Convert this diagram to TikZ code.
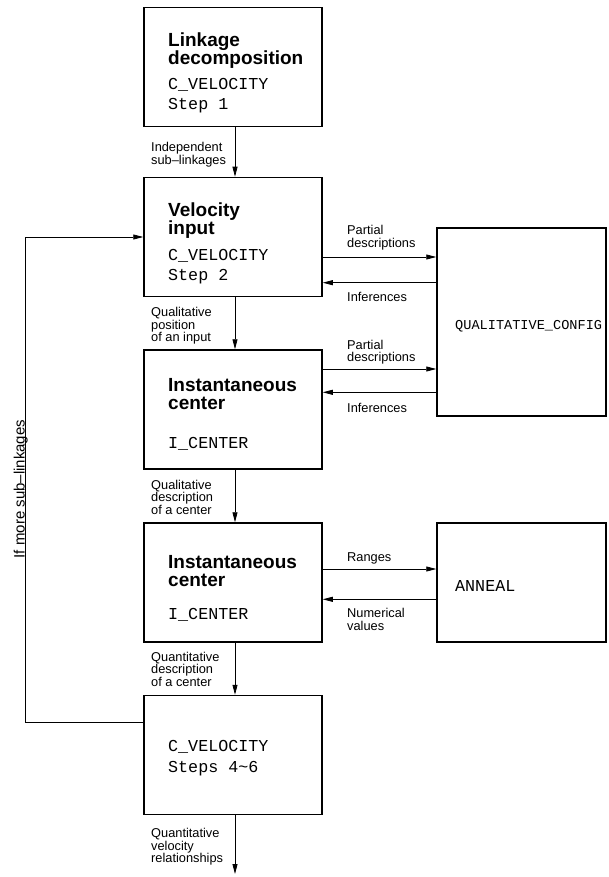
\documentclass[tikz,border=0pt]{standalone}
\usepackage{fontspec}
\setmainfont{Liberation Sans}
\newfontfamily\monofont{Liberation Mono}
\usetikzlibrary{arrows.meta}
\begin{document}
\begin{tikzpicture}[x=1pt,y=-1pt,
  box/.style={draw, line width=1.5pt, inner sep=0pt, minimum width=178pt, minimum height=119pt},
  sidebox/.style={draw, line width=1.5pt, inner sep=0pt, minimum width=169pt},
  ttl/.style={font=\fontsize{19}{19}\selectfont\bfseries, anchor=base west, inner sep=0pt},
  mono/.style={font=\fontsize{16.7}{20}\monofont, anchor=base west, inner sep=0pt},
  monosm/.style={font=\fontsize{13.6}{16}\monofont, anchor=base west, inner sep=0pt},
  lbl/.style={font=\fontsize{12.8}{12.6}\selectfont, anchor=base west, inner sep=0pt},
  conn/.style={line width=0.8pt, -{Triangle[length=10pt,width=5pt]}}
]
\useasboundingbox (0,0) rectangle (608,877);

% main boxes
\node[box] (b1) at (233,67) {};
\node[box] (b2) at (233,237) {};
\node[box] (b3) at (233,409.5) {};
\node[box] (b4) at (233,582.5) {};
\node[box] (b5) at (233,755) {};
% side boxes
\node[sidebox, minimum height=188pt] (qc) at (521.5,322) {};
\node[sidebox, minimum height=119pt] (an) at (521.5,582.5) {};

% box texts
\node[ttl] (t1a) at (168,47) {Linkage};
\node[ttl] (t1b) at (168,65) {decomposition};
\node[mono] (m1a) at (168,90) {C\_VELOCITY};
\node[mono] (m1b) at (168,110) {Step 1};

\node[ttl] (t2a) at (168,216.5) {Velocity};
\node[ttl] (t2b) at (168,234.5) {input};
\node[mono] (m2a) at (168,260) {C\_VELOCITY};
\node[mono] (m2b) at (168,280) {Step 2};

\node[ttl] (t3a) at (168,391) {Instantaneous};
\node[ttl] (t3b) at (168,409) {center};
\node[mono] (m3a) at (168,448) {I\_CENTER};

\node[ttl] (t4a) at (168,568) {Instantaneous};
\node[ttl] (t4b) at (168,586) {center};
\node[mono] (m4a) at (168,619) {I\_CENTER};

\node[mono] (m5a) at (168,751) {C\_VELOCITY};
\node[mono] (m5b) at (168,772) {Steps 4\textasciitilde 6};

\node[monosm] (mqc) at (455,329.5) {QUALITATIVE\_CONFIG};
\node[mono] (man) at (455,591.5) {ANNEAL};

% vertical connectors
\coordinate (out) at (235,874);
\draw[conn] ([xshift=2pt]b1.south) -- ([xshift=2pt]b2.north);
\draw[conn] ([xshift=2pt]b2.south) -- ([xshift=2pt]b3.north);
\draw[conn] ([xshift=2pt]b3.south) -- ([xshift=2pt]b4.north);
\draw[conn] ([xshift=2pt]b4.south) -- ([xshift=2pt]b5.north);
\draw[conn] ([xshift=2pt]b5.south) -- (out);

% horizontal connectors
\coordinate (h2a) at (0,257);
\coordinate (h2b) at (0,282.7);
\coordinate (h3a) at (0,369);
\coordinate (h3b) at (0,392.3);
\coordinate (h4a) at (0,569);
\coordinate (h4b) at (0,599.3);
\draw[conn] (b2.east |- h2a) -- (qc.west |- h2a);
\draw[conn] (qc.west |- h2b) -- (b2.east |- h2b);
\draw[conn] (b3.east |- h3a) -- (qc.west |- h3a);
\draw[conn] (qc.west |- h3b) -- (b3.east |- h3b);
\draw[conn] (b4.east |- h4a) -- (an.west |- h4a);
\draw[conn] (an.west |- h4b) -- (b4.east |- h4b);

% feedback loop
\coordinate (fb) at (0,722);
\coordinate (fbx) at (25,0);
\draw[conn] (b5.west |- fb) -- (fbx |- fb) |- (b2.west);
\node[font=\fontsize{15}{15}\selectfont, rotate=90, anchor=base, inner sep=0pt] (fbl) at (24.5,489) {If more sub–linkages};

% connector labels
\node[lbl] (l1a) at (151,152) {Independent};
\node[lbl] (l1b) at (151,164.5) {sub–linkages};

\node[lbl] (l2a) at (151,316.5) {Qualitative};
\node[lbl] (l2b) at (151,329) {position};
\node[lbl] (l2c) at (151,341.5) {of an input};

\node[lbl] (l3a) at (151,489) {Qualitative};
\node[lbl] (l3b) at (151,501.5) {description};
\node[lbl] (l3c) at (151,514) {of a center};

\node[lbl] (l4a) at (151,661) {Quantitative};
\node[lbl] (l4b) at (151,673.5) {description};
\node[lbl] (l4c) at (151,686) {of a center};

\node[lbl] (l5a) at (151,837.5) {Quantitative};
\node[lbl] (l5b) at (151,850) {velocity};
\node[lbl] (l5c) at (151,862.5) {relationships};

\node[lbl] (r2a) at (347,235) {Partial};
\node[lbl] (r2b) at (347,247.5) {descriptions};
\node[lbl] (r2c) at (347,301.5) {Inferences};

\node[lbl] (r3a) at (347,349) {Partial};
\node[lbl] (r3b) at (347,361.5) {descriptions};
\node[lbl] (r3c) at (347,412.5) {Inferences};

\node[lbl] (r4a) at (347,561) {Ranges};
\node[lbl] (r4b) at (347,617.5) {Numerical};
\node[lbl] (r4c) at (347,630) {values};
\end{tikzpicture}
\end{document}
